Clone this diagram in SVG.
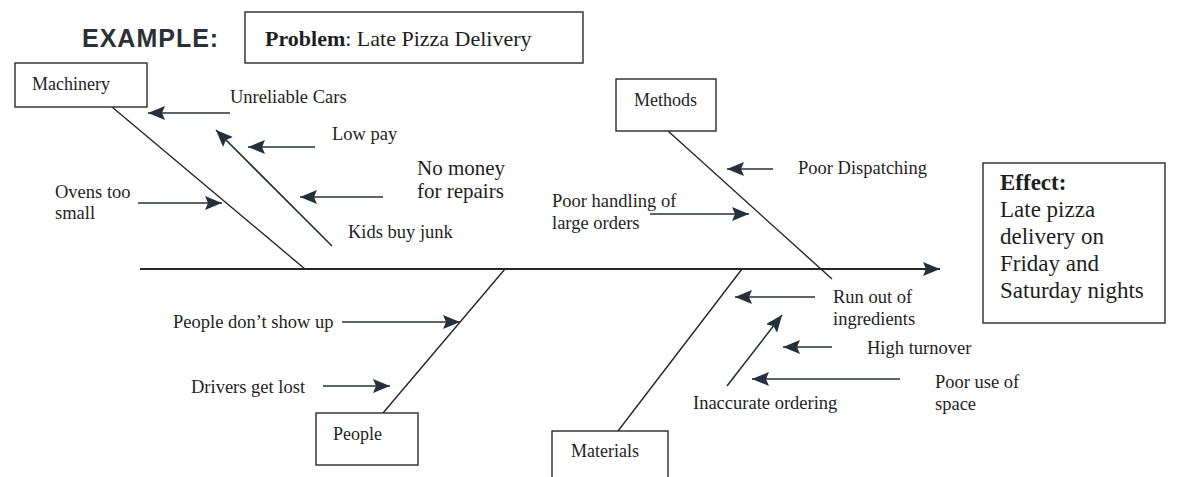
<svg xmlns="http://www.w3.org/2000/svg" width="1181" height="477" viewBox="0 0 1181 477">
<style>
.box{fill:#fff;stroke:#2a2a2a;stroke-width:1.4}
.t{font-family:"Liberation Serif","Times New Roman",serif;font-size:18.5px;fill:#1e1e1e}
.ln{stroke:#262626;stroke-width:1.4;fill:none}
.ar{stroke:#2a3038;stroke-width:1.6;fill:none;marker-end:url(#ah)}
.sp{stroke:#262626;stroke-width:2;fill:none;marker-end:url(#ah)}
.hd{font-family:"Liberation Sans",Arial,sans-serif;font-weight:bold;font-size:25px;letter-spacing:1px;fill:#2b2f36}
</style>
<defs>
<marker id="ah" markerUnits="userSpaceOnUse" markerWidth="18" markerHeight="14" refX="17" refY="7" orient="auto">
<path d="M0,0 L17,7 L0,14 L3,7 z" fill="#26303a"/>
</marker>
</defs>
<rect width="1181" height="477" fill="#fff"/>
<text class="hd" x="82" y="47">EXAMPLE:</text>
<g id="problem">
<rect class="box" x="245" y="12" width="338" height="51"/>
<text class="t" x="265" y="46" style="font-size:22px"><tspan font-weight="bold">Problem</tspan>: Late Pizza Delivery</text>
</g>
<g id="connectors">
<line class="sp" x1="140" y1="269" x2="940" y2="269"/>
<line class="ln" x1="112" y1="107" x2="305" y2="269"/>
<line class="ln" x1="668" y1="131" x2="832" y2="279"/>
<line class="ln" x1="505" y1="269" x2="383" y2="413"/>
<line class="ln" x1="742" y1="269" x2="618" y2="431"/>
<line class="ar" x1="230" y1="113" x2="148" y2="113"/>
<line class="ar" x1="315" y1="147" x2="248" y2="147"/>
<line class="ar" x1="383" y1="197" x2="300" y2="197"/>
<line class="ar" x1="138" y1="203" x2="222" y2="203"/>
<line class="ar" x1="332" y1="246" x2="216" y2="130"/>
<line class="ar" x1="773" y1="169" x2="727" y2="169"/>
<line class="ar" x1="650" y1="214" x2="749" y2="214"/>
<line class="ar" x1="342" y1="322" x2="460" y2="322"/>
<line class="ar" x1="323" y1="386" x2="390" y2="386"/>
<line class="ar" x1="815" y1="297" x2="735" y2="297"/>
<line class="ar" x1="727" y1="386" x2="782" y2="315"/>
<line class="ar" x1="832" y1="347" x2="783" y2="347"/>
<line class="ar" x1="900" y1="379" x2="752" y2="379"/>
</g>
<g id="machinery">
<rect class="box" x="15" y="63" width="132" height="44"/>
<text class="t" x="32" y="90" style="font-size:18px">Machinery</text>
</g>
<g id="methods">
<rect class="box" x="616" y="79" width="100" height="52"/>
<text class="t" x="634" y="106" style="font-size:18px">Methods</text>
</g>
<g id="people">
<rect class="box" x="316" y="413" width="102" height="52"/>
<text class="t" x="333" y="440" style="font-size:18px">People</text>
</g>
<g id="materials">
<rect class="box" x="552" y="431" width="116" height="60"/>
<text class="t" x="571" y="457" style="font-size:18px">Materials</text>
</g>
<g id="effect">
<rect class="box" x="983" y="163" width="182" height="160"/>
<text class="t" x="1000" y="190" style="font-size:23px"><tspan font-weight="bold">Effect:</tspan><tspan x="1000" y="217">Late pizza</tspan><tspan x="1000" y="244">delivery on</tspan><tspan x="1000" y="271">Friday and</tspan><tspan x="1000" y="298">Saturday nights</tspan></text>
</g>
<g id="causes">
<text class="t" x="230" y="103">Unreliable Cars</text>
<text class="t" x="332" y="140">Low pay</text>
<text class="t" x="417" y="175" style="font-size:21px">No money<tspan x="417" y="198">for repairs</tspan></text>
<text class="t" x="55" y="198">Ovens too<tspan x="55" y="219">small</tspan></text>
<text class="t" x="348" y="238">Kids buy junk</text>
<text class="t" x="798" y="174">Poor Dispatching</text>
<text class="t" x="552" y="207">Poor handling of<tspan x="552" y="229">large orders</tspan></text>
<text class="t" x="173" y="328">People don’t show up</text>
<text class="t" x="191" y="393">Drivers get lost</text>
<text class="t" x="833" y="303">Run out of<tspan x="833" y="325">ingredients</tspan></text>
<text class="t" x="867" y="354">High turnover</text>
<text class="t" x="935" y="388">Poor use of<tspan x="935" y="410">space</tspan></text>
<text class="t" x="693" y="409">Inaccurate ordering</text>
</g>
</svg>
